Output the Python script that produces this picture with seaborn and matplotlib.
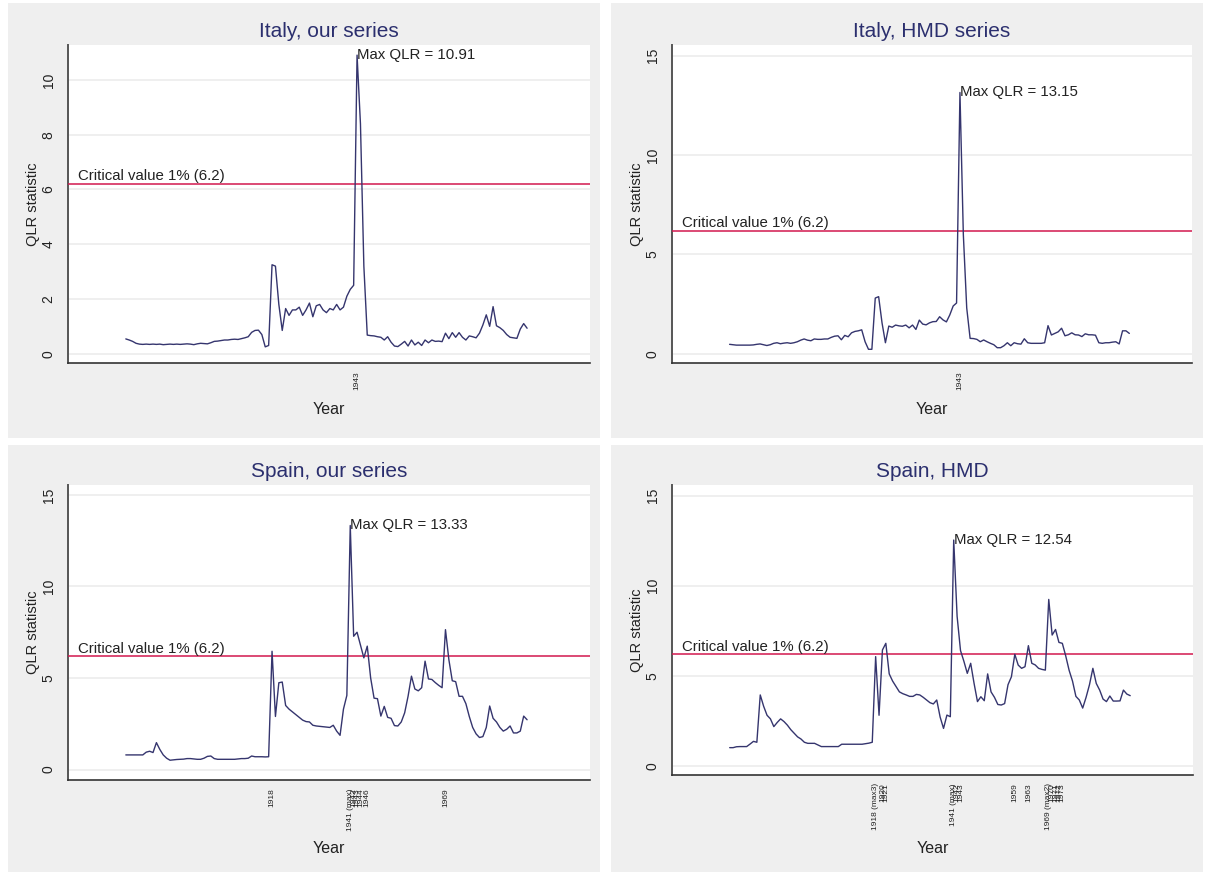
import numpy as np
import pandas as pd
import matplotlib
matplotlib.use("Agg")
import matplotlib.pyplot as plt
from matplotlib.patches import Rectangle
import seaborn as sns

sns.set_style("white")
plt.rcParams['font.family'] = ['Liberation Sans', 'DejaVu Sans']

# ---- data (QLR statistic by year) ----
years = list(range(1875, 1994))

italy_our = [
    0.54, 0.50, 0.45, 0.38, 0.35, 0.34, 0.35, 0.34, 0.35, 0.34,
    0.35, 0.33, 0.34, 0.35, 0.34, 0.35, 0.34, 0.35, 0.36, 0.35,
    0.33, 0.36, 0.38, 0.37, 0.36, 0.40, 0.45, 0.46, 0.48, 0.50,
    0.50, 0.52, 0.53, 0.52, 0.55, 0.58, 0.62, 0.78, 0.85, 0.86,
    0.70, 0.25, 0.30, 3.25, 3.20, 1.80, 0.85, 1.65, 1.40, 1.60,
    1.60, 1.70, 1.40, 1.60, 1.85, 1.35, 1.75, 1.80, 1.60, 1.50,
    1.65, 1.60, 1.80, 1.60, 1.70, 2.10, 2.35, 2.50, 10.91, 8.40,
    3.20, 0.68, 0.66, 0.65, 0.62, 0.60, 0.50, 0.62, 0.42, 0.28,
    0.26, 0.35, 0.45, 0.28, 0.50, 0.32, 0.42, 0.30, 0.50, 0.40,
    0.50, 0.45, 0.46, 0.44, 0.75, 0.55, 0.77, 0.60, 0.77, 0.60,
    0.50, 0.65, 0.62, 0.58, 0.75, 1.05, 1.42, 1.00, 1.72, 1.02,
    0.95, 0.85, 0.70, 0.60, 0.58, 0.56, 0.90, 1.10, 0.93]

italy_hmd = [
    0.47, 0.45, 0.43, 0.43, 0.43, 0.43, 0.43, 0.44, 0.47, 0.49,
    0.45, 0.41, 0.45, 0.52, 0.55, 0.50, 0.53, 0.55, 0.52, 0.55,
    0.60, 0.68, 0.74, 0.68, 0.65, 0.74, 0.72, 0.72, 0.74, 0.74,
    0.82, 0.88, 0.90, 0.70, 0.92, 0.85, 1.05, 1.12, 1.15, 1.20,
    0.60, 0.22, 0.22, 2.80, 2.87, 1.55, 0.55, 1.39, 1.33, 1.44,
    1.40, 1.38, 1.44, 1.30, 1.44, 1.22, 1.69, 1.49, 1.45, 1.55,
    1.61, 1.62, 1.86, 1.70, 1.60, 1.95, 2.40, 2.55, 13.15, 6.00,
    2.30, 0.77, 0.76, 0.72, 0.60, 0.69, 0.60, 0.52, 0.45, 0.30,
    0.30, 0.40, 0.55, 0.40, 0.55, 0.50, 0.48, 0.75, 0.55, 0.52,
    0.52, 0.52, 0.52, 0.55, 1.41, 0.94, 1.02, 1.10, 1.28, 0.90,
    0.95, 1.05, 0.95, 0.94, 0.86, 1.00, 0.95, 0.95, 0.93, 0.55,
    0.52, 0.55, 0.55, 0.58, 0.60, 0.49, 1.15, 1.15, 1.02]

spain_our = [
    0.80, 0.80, 0.80, 0.80, 0.80, 0.80, 0.95, 1.00, 0.93, 1.47,
    1.10, 0.80, 0.62, 0.51, 0.53, 0.55, 0.56, 0.57, 0.60, 0.60,
    0.58, 0.56, 0.56, 0.62, 0.72, 0.74, 0.60, 0.56, 0.56, 0.56,
    0.56, 0.56, 0.56, 0.58, 0.60, 0.60, 0.62, 0.74, 0.70, 0.70,
    0.70, 0.69, 0.70, 6.46, 2.90, 4.74, 4.78, 3.50, 3.30, 3.15,
    3.00, 2.85, 2.70, 2.62, 2.60, 2.42, 2.38, 2.36, 2.34, 2.32,
    2.30, 2.42, 2.10, 1.87, 3.30, 4.05, 13.33, 7.28, 7.50, 6.80,
    6.10, 6.74, 5.00, 3.90, 3.87, 2.92, 3.45, 2.85, 2.80, 2.40,
    2.38, 2.60, 3.10, 4.00, 5.10, 4.40, 4.30, 4.47, 5.92, 4.95,
    4.92, 4.75, 4.60, 4.47, 7.64, 6.00, 4.85, 4.80, 4.00, 4.00,
    3.60, 2.90, 2.30, 1.95, 1.75, 1.80, 2.30, 3.47, 2.80, 2.60,
    2.30, 2.10, 2.20, 2.38, 2.00, 2.00, 2.10, 2.92, 2.72]

spain_hmd = [
    1.00, 1.00, 1.05, 1.06, 1.06, 1.06, 1.20, 1.35, 1.30, 3.93,
    3.30, 2.80, 2.60, 2.17, 2.40, 2.60, 2.45, 2.25, 2.00, 1.80,
    1.60, 1.48, 1.30, 1.24, 1.24, 1.24, 1.15, 1.06, 1.06, 1.06,
    1.06, 1.06, 1.06, 1.19, 1.19, 1.19, 1.19, 1.19, 1.19, 1.19,
    1.22, 1.25, 1.30, 6.06, 2.80, 6.43, 6.80, 5.10, 4.70, 4.40,
    4.10, 4.00, 3.93, 3.85, 3.85, 3.96, 3.93, 3.80, 3.65, 3.50,
    3.43, 3.65, 2.70, 2.07, 2.81, 2.72, 12.54, 8.30, 6.40, 5.80,
    5.13, 5.69, 4.57, 3.56, 3.83, 3.61, 5.10, 4.10, 3.80, 3.40,
    3.37, 3.45, 4.50, 4.94, 6.19, 5.59, 5.41, 5.50, 6.67, 5.69,
    5.60, 5.41, 5.35, 5.31, 9.24, 7.26, 7.57, 6.85, 6.80, 6.10,
    5.30, 4.70, 3.85, 3.65, 3.20, 3.80, 4.50, 5.41, 4.57, 4.20,
    3.70, 3.56, 3.87, 3.59, 3.59, 3.60, 4.20, 3.98, 3.89]

titles = ["Italy, our series", "Italy, HMD series", "Spain, our series", "Spain, HMD"]
series = [italy_our, italy_hmd, spain_our, spain_hmd]
max_year = [1943, 1943, 1941, 1941]
max_val = [10.91, 13.15, 13.33, 12.54]
yticks = [[0, 2, 4, 6, 8, 10], [0, 5, 10, 15], [0, 5, 10, 15], [0, 5, 10, 15]]
ylims = [(-0.34, 11.28), (-0.47, 15.54), (-0.57, 15.54), (-0.52, 15.6)]
xtick_years = [
    [1943],
    [1943],
    [1918, 1941, 1942, 1943, 1944, 1946, 1969],
    [1918, 1920, 1921, 1941, 1942, 1943, 1959, 1963, 1969, 1970, 1971, 1972, 1973]]
xtick_labels = [
    ["1943"],
    ["1943"],
    ["1918", "1941 (max)", "1942", "1943", "1944", "1946", "1969"],
    ["1918 (max3)", "1920", "1921", "1941 (max)", "1942", "1943", "1959", "1963",
     "1969 (max2)", "1970", "1971", "1972", "1973"]]
crit = 6.2

# ---- layout (pixels) ----
W, H = 1205, 872
fig = plt.figure(figsize=(W / 100, H / 100), dpi=100)
fig.patch.set_facecolor("white")

panels = [(8, 3, 600, 438), (611, 3, 1203, 438), (8, 445, 600, 872), (611, 445, 1203, 872)]
axes_px = [(68, 45, 590, 363), (672, 45, 1192, 363), (68, 485, 590, 780), (672, 485, 1193, 775)]
year_label_top = [402, 402, 841, 841]

for (x0, y0, x1, y1) in panels:
    fig.add_artist(Rectangle((x0 / W, 1 - y1 / H), (x1 - x0) / W, (y1 - y0) / H,
                             transform=fig.transFigure, facecolor="#efefef",
                             edgecolor="none", zorder=0))

navy = "#2b2f6e"
for i in range(4):
    l, t, r, b = axes_px[i]
    ax = fig.add_axes([l / W, 1 - b / H, (r - l) / W, (b - t) / H])
    ax.set_facecolor("white")
    df = pd.DataFrame({"Year": years, "QLR": series[i]})
    ax.axhline(crit, color="#d2184e", lw=1.1, zorder=3)
    sns.lineplot(data=df, x="Year", y="QLR", ax=ax, color="#35356e", lw=1.0, zorder=4)
    ax.set_xlim(1858, 2011.5)
    ax.set_ylim(*ylims[i])
    ax.set_yticks(yticks[i])
    ax.set_yticklabels([str(v) for v in yticks[i]], rotation=90, va="center", fontsize=10)
    ax.set_xticks(xtick_years[i])
    ax.set_xticklabels(xtick_labels[i], rotation=90, fontsize=6)
    ax.tick_params(axis="y", length=7, width=1, color="#444444", pad=2, labelcolor="#222222")
    ax.tick_params(axis="x", length=4, width=1, color="#222222", pad=2, labelcolor="#222222")
    for yv in yticks[i]:
        ax.axhline(yv, color="#eeeeee", lw=1.3, zorder=1)
    for s in ["top", "right"]:
        ax.spines[s].set_visible(False)
    ax.spines["left"].set_color("#555555")
    ax.spines["bottom"].set_color("#333333")
    ax.spines["left"].set_linewidth(1.4)
    ax.spines["bottom"].set_linewidth(1.2)

    ax.set_title(titles[i], fontsize=15, color=navy, pad=6)
    ax.set_ylabel("QLR statistic", fontsize=10.5, color="#222222")
    ax.yaxis.set_label_coords(-28 / (r - l), 0.5)
    ax.set_xlabel("Year", fontsize=11.5, color="#222222")
    ax.xaxis.set_label_coords(0.5, -(year_label_top[i] - b) / (b - t))

    ax.text(1861, crit + 0.02, "Critical value 1% (6.2)",
            fontsize=10.8, color="#222222", va="bottom", ha="left", zorder=5)
    ax.text(max_year[i], max_val[i], "Max QLR = %.2f" % max_val[i],
            fontsize=10.8, color="#222222", va="center", ha="left", zorder=5)

fig.savefig("out.png", dpi=100)
